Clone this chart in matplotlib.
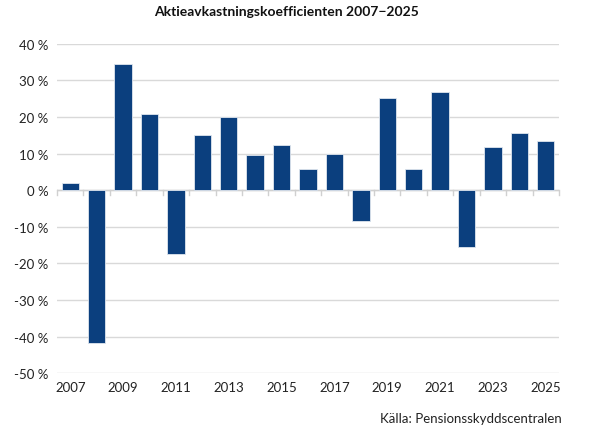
import matplotlib
matplotlib.use("Agg")
import matplotlib.pyplot as plt
import numpy as np

years = list(range(2007, 2026))
values = [1.9, -41.9, 34.6, 20.7, -17.5, 15.2, 20.0, 9.7, 12.4, 5.9,
          9.8, -8.4, 25.3, 5.7, 26.7, -15.5, 11.8, 15.5, 13.5]
yticks = [40, 30, 20, 10, 0, -10, -20, -30, -40, -50]
title = "Aktieavkastningskoefficienten 2007\u22122025"
source = "Källa: Pensionsskyddscentralen"

plt.rcParams['font.family'] = ['Lato', 'DejaVu Sans']

fig = plt.figure(figsize=(5.94, 4.35), dpi=100)
ax = fig.add_axes([0.096, 0.140, 0.845, 0.757])

x = np.arange(len(years))
ax.bar(x, values, width=0.66, color='#0B3F7E', edgecolor='#dfe6ef', linewidth=0.6, zorder=3)

ax.set_xlim(-0.5, len(years) - 0.5)
ax.set_ylim(-50, 40)
ax.set_yticks(yticks)
ax.set_yticklabels([f"{v} %" for v in yticks], fontsize=9.5, color='#222222')
ax.yaxis.grid(True, color='#d9d9d9', linewidth=1.0, zorder=0)
ax.tick_params(axis='y', length=0, pad=6)

ax.set_xticks(x[::2])
ax.set_xticklabels([str(y) for y in years[::2]], fontsize=9.5, color='#222222')
ax.tick_params(axis='x', length=0, pad=6)

ax.axhline(0, color='#d0d0d0', linewidth=1.0, zorder=2)
for b in np.arange(-0.5, len(years), 1.0):
    ax.plot([b, b], [0, -1.2], color='#d0d0d0', linewidth=1.0, zorder=2, clip_on=False)

for s in ax.spines.values():
    s.set_visible(False)

fig.text(0.483, 0.972, title, ha='center', va='center', fontsize=10, fontweight='bold', color='#111111')
fig.text(0.946, 0.037, source, ha='right', va='center', fontsize=9.5, color='#222222')

fig.savefig("out.png", dpi=100, facecolor='white')
